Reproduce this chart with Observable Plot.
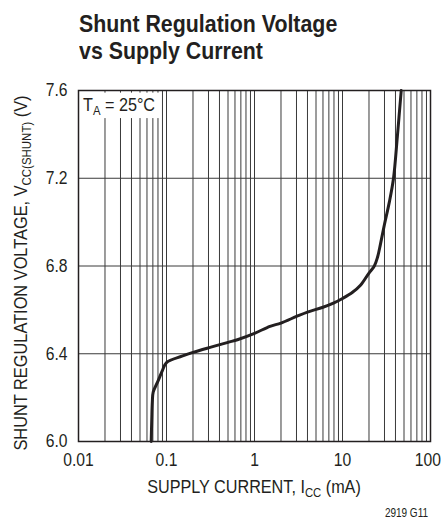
<!DOCTYPE html>
<html><head><meta charset="utf-8">
<script src="https://cdn.jsdelivr.net/npm/d3@7"></script>
<script src="https://cdn.jsdelivr.net/npm/@observablehq/plot@0.6"></script>
<style>
body{margin:0;background:#fff;width:443px;height:523px;overflow:hidden;font-family:"Liberation Sans",Arial,sans-serif;color:#231f20;}
#title{position:relative;height:78px;}
#title div{position:absolute;left:79px;top:10px;font-weight:bold;font-size:24px;line-height:27px;white-space:nowrap;transform:scaleX(0.89);transform-origin:left top;}
</style></head><body>
<div id="title"><div>Shunt Regulation Voltage<br>vs Supply Current</div></div>
<div id="chart"></div>
<script>
// Supply current (mA) and shunt regulation voltage (V)
const current = [0.067, 0.068, 0.069, 0.0706, 0.08, 0.09, 0.1, 0.15, 0.2, 0.32, 0.5, 0.64, 1, 1.5, 2, 3, 4, 6, 8, 10, 13, 16, 20, 23, 25, 27, 30, 34, 38, 42, 46.5];
const voltage = [6.00, 6.10, 6.18, 6.225, 6.275, 6.324, 6.36, 6.389, 6.406, 6.43, 6.452, 6.464, 6.493, 6.525, 6.54, 6.57, 6.59, 6.612, 6.632, 6.652, 6.68, 6.712, 6.768, 6.80, 6.84, 6.90, 6.99, 7.09, 7.20, 7.39, 7.6];

const xTicks = [0.01, 0.1, 1, 10, 100];
const xTickLabels = ["0.01", "0.1", "1", "10", "100"];
const yTicks = [6.0, 6.4, 6.8, 7.2, 7.6];
const yTickLabels = ["6.0", "6.4", "6.8", "7.2", "7.6"];
const xGrid = [0.02,0.03,0.04,0.05,0.06,0.07,0.08,0.09,0.1,0.2,0.3,0.4,0.5,0.6,0.7,0.8,0.9,1,2,3,4,5,6,7,8,9,10,20,30,40,50,60,70,80,90];
const yGrid = [6.4, 6.8, 7.2];
const labelBox = [{x1: 0.01, x2: 0.086, y1: 7.472, y2: 7.588}];

const xLabel = ["SUPPLY CURRENT, I", "CC", " (mA)"];
const yLabel = ["SHUNT REGULATION VOLTAGE, V", "CC(SHUNT)", " (V)"];
const tempLabel = ["T", "A", " = 25°C"];
const figCode = "2919 G11";

const FONT = '"Liberation Sans",Arial,sans-serif';
const INK = "#231f20";
const data = current.map((c, i) => ({c, v: voltage[i]}));

const plot = Plot.plot({
  width: 443, height: 445,
  marginTop: 12, marginBottom: 82, marginLeft: 78, marginRight: 13,
  x: {type: "log", domain: [0.01, 100]},
  y: {domain: [6, 7.6]},
  style: {fontFamily: FONT, fontSize: "18px", color: INK, background: "white", overflow: "visible"},
  marks: [
    Plot.ruleX(xGrid, {stroke: "#3a3a3a", strokeWidth: 1}),
    Plot.ruleY(yGrid, {stroke: "#3a3a3a", strokeWidth: 1}),
    Plot.rect(labelBox, {x1: "x1", x2: "x2", y1: "y1", y2: "y2", fill: "white"}),
    Plot.line(data, {x: "c", y: "v", stroke: INK, strokeWidth: 3, curve: "catmull-rom"}),
    Plot.frame({stroke: INK, strokeWidth: 1.5}),
    Plot.axisX(xTicks, {tickSize: 0, tickPadding: 12, tickFormat: d => xTickLabels[xTicks.indexOf(d)], label: null, fill: INK}),
    Plot.axisY(yTicks, {tickSize: 0, tickPadding: 11, tickFormat: d => yTickLabels[yTicks.indexOf(d)], label: null, fill: INK})
  ]
});
document.getElementById("chart").appendChild(plot);

const svg = d3.select(plot);
// condense the tick labels (the original uses a narrow typeface)
svg.selectAll('g[aria-label$="tick label"] text').each(function() {
  const t = this.getAttribute("transform") || "";
  this.setAttribute("transform", t + " scale(0.87,1)");
});
// keep the last x label inside the picture
svg.selectAll('g[aria-label="x-axis tick label"] text').filter(function() { return this.textContent === "100"; })
  .attr("text-anchor", "end").attr("dx", 12);

function richText(parts, attrs, size, sx) {
  const t = svg.append("text").attr("font-family", FONT).attr("font-size", size).attr("fill", INK);
  for (const [k, v] of Object.entries(attrs)) t.attr(k, v);
  t.append("tspan").text(parts[0]);
  t.append("tspan").attr("font-size", size * 0.7).attr("dy", 4).text(parts[1]);
  t.append("tspan").attr("dy", -4).text(parts[2]);
  return t;
}
richText(xLabel, {transform: "translate(254,415) scale(0.9,1)", "text-anchor": "middle"}, 18);
richText(yLabel, {transform: "translate(27,195) rotate(-90) scale(0.91,1)", "text-anchor": "middle"}, 18);
richText(tempLabel, {transform: "translate(83,33) scale(0.9,1)", "text-anchor": "start"}, 18);
svg.append("text").attr("transform", "translate(428,439) scale(0.8,1)").attr("text-anchor", "end")
  .attr("font-family", FONT).attr("font-size", 12.5).attr("fill", INK).text(figCode);
</script>
</body></html>
